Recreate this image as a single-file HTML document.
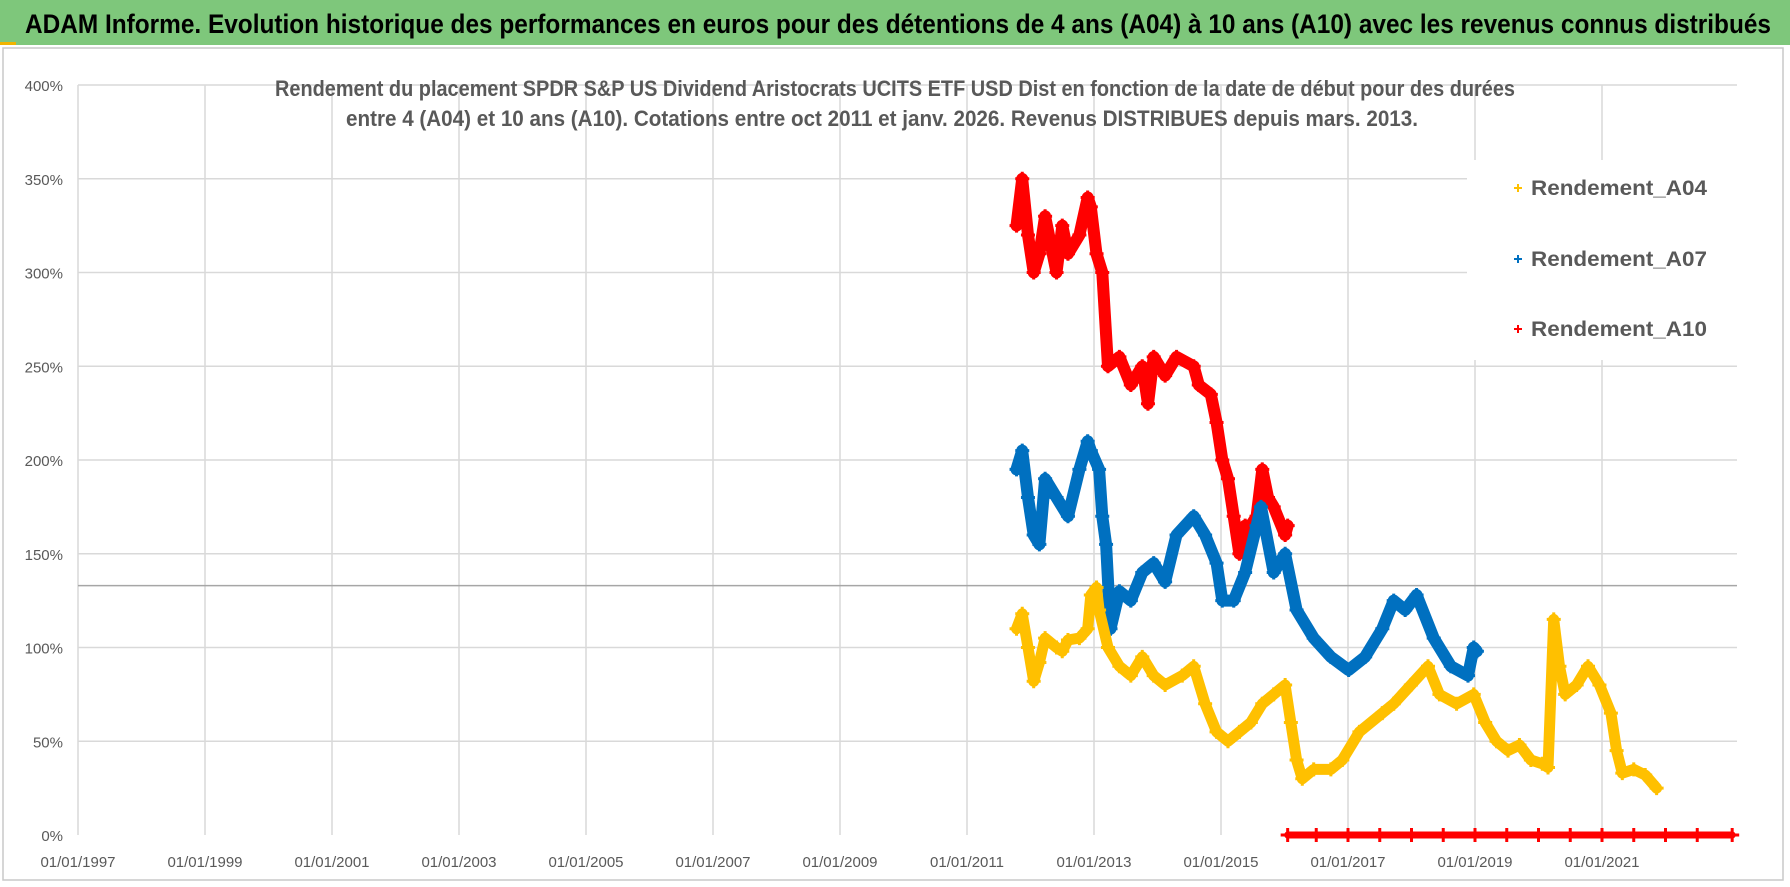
<!DOCTYPE html>
<html><head><meta charset="utf-8"><style>
html,body{margin:0;padding:0;background:#fff;}
svg{display:block;font-family:"Liberation Sans",sans-serif;}
</style></head><body>
<svg id="chart" width="1790" height="887" viewBox="0 0 1790 887" xmlns="http://www.w3.org/2000/svg">
<rect x="0" y="0" width="1790" height="887" fill="#fff"/>
<rect x="0" y="0" width="1790" height="45" fill="#7ec77b"/>
<rect x="0" y="42" width="16" height="3" fill="#f0b400"/>
<text x="25" y="33" font-size="27" font-weight="bold" fill="#000" textLength="1746" lengthAdjust="spacingAndGlyphs">ADAM Informe. Evolution historique des performances en euros pour des détentions de 4 ans (A04) à 10 ans (A10) avec les revenus connus distribués</text>
<rect x="3" y="48" width="1780" height="832" fill="none" stroke="#c8c8c8" stroke-width="1.5"/>
<g id="grid"></g>
<g id="axes"></g>
<g id="series"></g>
<rect x="1467" y="160" width="304" height="200" fill="#fff"/>
<text x="895" y="96" font-size="22" font-weight="bold" fill="#595959" text-anchor="middle" textLength="1240" lengthAdjust="spacingAndGlyphs">Rendement du placement SPDR S&amp;P US Dividend Aristocrats UCITS ETF USD Dist en fonction de la date de début pour des durées</text>
<text x="882" y="126" font-size="22" font-weight="bold" fill="#595959" text-anchor="middle" textLength="1072" lengthAdjust="spacingAndGlyphs">entre 4 (A04) et 10 ans (A10).  Cotations entre oct 2011 et janv. 2026. Revenus DISTRIBUES depuis mars. 2013.</text>
<g id="legend"></g>
</svg>
<script>
const yearTicks=[1997,1999,2001,2003,2005,2007,2009,2011,2013,2015,2017,2019,2021];
const yTicks=[0,50,100,150,200,250,300,350,400];
const refLine=133;
const a04Dates=[2011.78,2011.87,2011.96,2012.05,2012.14,2012.23,2012.41,2012.50,2012.59,2012.77,2012.90,2012.95,2013.04,2013.08,2013.22,2013.40,2013.58,2013.76,2013.94,2014.12,2014.39,2014.57,2014.75,2014.93,2015.11,2015.29,2015.47,2015.65,2015.83,2016.01,2016.10,2016.19,2016.28,2016.46,2016.73,2016.91,2017.18,2017.54,2017.72,2017.99,2018.26,2018.44,2018.71,2018.98,2019.16,2019.34,2019.52,2019.70,2019.88,2020.06,2020.15,2020.24,2020.33,2020.42,2020.60,2020.78,2020.96,2021.14,2021.23,2021.32,2021.50,2021.68,2021.86];
const a04Values=[110,118,100,82,92,105,100,98,104,105,110,128,132,120,100,90,85,95,85,80,85,90,70,55,50,55,60,70,75,80,60,40,30,35,35,40,55,65,70,80,90,75,70,75,60,50,45,48,40,38,36,115,90,75,80,90,80,65,45,33,35,32,25];
const a07Dates=[2011.78,2011.87,2011.96,2012.05,2012.14,2012.23,2012.41,2012.59,2012.77,2012.90,2012.95,2013.08,2013.13,2013.19,2013.26,2013.40,2013.58,2013.76,2013.94,2014.12,2014.30,2014.57,2014.75,2014.93,2015.02,2015.20,2015.38,2015.56,2015.63,2015.83,2016.01,2016.19,2016.46,2016.73,2017.01,2017.27,2017.54,2017.72,2017.90,2018.08,2018.35,2018.62,2018.89,2018.98,2019.03];
const a07Values=[195,205,180,160,155,190,180,170,195,210,205,195,170,155,110,130,125,140,145,135,160,170,160,145,125,125,140,165,175,140,150,120,105,95,88,95,110,125,120,128,105,90,85,100,98];
const a10Dates=[2011.78,2011.87,2011.96,2012.05,2012.14,2012.23,2012.41,2012.50,2012.59,2012.77,2012.90,2012.95,2013.04,2013.13,2013.22,2013.40,2013.58,2013.76,2013.85,2013.94,2014.12,2014.30,2014.57,2014.65,2014.84,2014.93,2015.02,2015.11,2015.20,2015.29,2015.38,2015.47,2015.56,2015.65,2015.74,2015.83,2016.01,2016.05];
const a10Values=[325,350,320,300,310,330,300,325,310,320,340,335,310,300,250,255,240,250,230,255,245,255,250,240,235,220,200,190,170,150,165,165,170,195,180,175,160,165];
const zeroDates=[2016.05,2016.5,2017,2017.5,2018,2018.5,2019,2019.5,2020,2020.5,2021,2021.5,2022,2022.5,2023.05];
const zeroValues=[0,0,0,0,0,0,0,0,0,0,0,0,0,0,0];

const NS="http://www.w3.org/2000/svg";
function xs(yr){return 78+(yr-1997)*63.5;}
function ys(v){return 835-v*750/400;}
function mk(tag,attrs,parent){const e=document.createElementNS(NS,tag);for(const k in attrs)e.setAttribute(k,attrs[k]);parent.appendChild(e);return e;}
const grid=document.getElementById('grid'),axes=document.getElementById('axes'),ser=document.getElementById('series'),leg=document.getElementById('legend');
yTicks.forEach(v=>{
  if(v>0){const l=mk('line',{x1:78,x2:1737,y1:ys(v),y2:ys(v),stroke:'#d9d9d9','stroke-width':1.5},grid);
  
  }
  const t=mk('text',{x:63,y:ys(v)+6,'font-size':15,fill:'#595959','text-anchor':'end'},axes);
  t.textContent=v+'%';
  
  
});
yearTicks.forEach(y=>{
  const l=mk('line',{x1:xs(y),x2:xs(y),y1:ys(400),y2:835,stroke:'#d9d9d9','stroke-width':1.5},grid);
  
  
  const t=mk('text',{x:xs(y),y:867,'font-size':15,fill:'#595959','text-anchor':'middle'},axes);
  t.textContent='01/01/'+y;
  
  
});
const rl=mk('line',{x1:78,x2:1737,y1:ys(refLine),y2:ys(refLine),stroke:'#a6a6a6','stroke-width':1.5},grid);



function drawSeries(dates,vals,color,name,width){
  const g=mk('g',{},ser);
  
  
  const pts=dates.map((d,i)=>xs(d).toFixed(1)+','+ys(vals[i]).toFixed(1)).join(' ');
  mk('polyline',{points:pts,fill:'none',stroke:color,'stroke-width':width,'stroke-linejoin':'round','stroke-linecap':'round'},g);
  dates.forEach((d,i)=>{
    const x=xs(d),y=ys(vals[i]);
    const p=mk('path',{d:`M${x-7},${y}h14M${x},${y-7}v14`,stroke:color,'stroke-width':3},g);
    
    
  });
}
drawSeries(a10Dates,a10Values,'#ff0000','series-a10',12);
drawSeries(a07Dates,a07Values,'#0070c0','series-a07',12);
drawSeries(a04Dates,a04Values,'#ffc000','series-a04',11);
drawSeries(zeroDates,zeroValues,'#ff0000','series-a10-zero',7);

[['Rendement_A04','#ffc000',195],['Rendement_A07','#0070c0',266],['Rendement_A10','#ff0000',336]].forEach(e=>{
  const g=mk('g',{},leg);
  
  
  mk('path',{d:`M${1514},${e[2]-7}h8M${1518},${e[2]-11}v8`,stroke:e[1],'stroke-width':2},g);
  const t=mk('text',{x:1531,y:e[2],'font-size':21,'font-weight':'bold',fill:'#595959',textLength:176,lengthAdjust:'spacingAndGlyphs'},g);
  t.textContent=e[0];
});
</script>
</body></html>
